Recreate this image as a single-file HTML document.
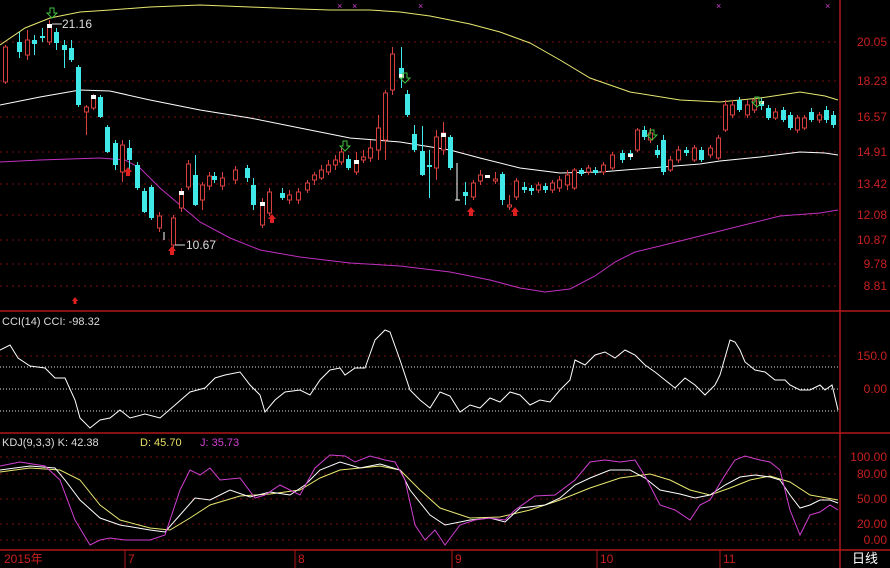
<!DOCTYPE html><html><head><meta charset="utf-8"><style>
body{margin:0;background:#000;width:890px;height:568px;overflow:hidden;font-family:"Liberation Sans","Noto Sans CJK SC",sans-serif}
svg{display:block}
</style></head><body>
<svg width="890" height="568" xmlns="http://www.w3.org/2000/svg">
<rect width="890" height="568" fill="#000"/>
<g stroke="#7a1010" stroke-dasharray="2,4" stroke-width="1">
<line x1="0" y1="42" x2="840" y2="42"/><line x1="0" y1="81" x2="840" y2="81"/><line x1="0" y1="117" x2="840" y2="117"/><line x1="0" y1="152" x2="840" y2="152"/><line x1="0" y1="184" x2="840" y2="184"/><line x1="0" y1="215" x2="840" y2="215"/><line x1="0" y1="240" x2="840" y2="240"/><line x1="0" y1="264" x2="840" y2="264"/><line x1="0" y1="286" x2="840" y2="286"/>
<line x1="0" y1="356" x2="840" y2="356"/>
<line x1="0" y1="457" x2="840" y2="457"/><line x1="0" y1="474" x2="840" y2="474"/><line x1="0" y1="499" x2="840" y2="499"/><line x1="0" y1="524" x2="840" y2="524"/><line x1="0" y1="540" x2="840" y2="540"/>
</g>
<g stroke="#ddd" stroke-dasharray="1,2"><line x1="0" y1="367" x2="840" y2="367"/><line x1="0" y1="389" x2="840" y2="389"/><line x1="0" y1="411" x2="840" y2="411"/></g>
<g stroke="#b01818" stroke-width="1.5" fill="none">
<line x1="0" y1="311" x2="890" y2="311"/><line x1="0" y1="433" x2="890" y2="433"/><line x1="0" y1="550" x2="890" y2="550"/><line x1="840" y1="0" x2="840" y2="568"/>
</g>
<g stroke="#b01818"><line x1="125" y1="550" x2="125" y2="568"/><line x1="295" y1="550" x2="295" y2="568"/><line x1="452" y1="550" x2="452" y2="568"/><line x1="597" y1="550" x2="597" y2="568"/><line x1="720" y1="550" x2="720" y2="568"/></g>
<g fill="#c82020" font-size="12">
<text x="4" y="563">2015年</text><text x="128" y="563">7</text><text x="298" y="563">8</text><text x="455" y="563">9</text><text x="600" y="563">10</text><text x="723" y="563">11</text>
</g>
<text x="852" y="563" fill="#fff" font-size="13">日线</text>
<g fill="#c82020" font-size="12" text-anchor="end">
<text x="887" y="46">20.05</text><text x="887" y="85">18.23</text><text x="887" y="121">16.57</text><text x="887" y="156">14.91</text><text x="887" y="188">13.42</text><text x="887" y="219">12.08</text><text x="887" y="244">10.87</text><text x="887" y="268">9.78</text><text x="887" y="290">8.81</text>
<text x="887" y="360">150.0</text><text x="887" y="393">0.00</text>
<text x="887" y="461">100.00</text><text x="887" y="478">80.00</text><text x="887" y="503">50.00</text><text x="887" y="528">20.00</text><text x="887" y="544">0.00</text>
</g>
<g font-size="11"><text x="2" y="325" fill="#ddd">CCI(14)  CCI: -98.32</text>
<text x="2" y="446" fill="#ddd">KDJ(9,3,3)  K: 42.38</text><text x="140" y="446" fill="#e8e060">D: 45.70</text><text x="200" y="446" fill="#d040d0">J: 35.73</text></g>
<g fill="#d040d0" font-size="9"><text x="337" y="9">×</text><text x="352" y="9">×</text><text x="418" y="9">×</text><text x="716" y="9">×</text><text x="825" y="9">×</text></g>
<polyline fill="none" stroke="#e8e870" points="0,45 25,28 50,18 80,12 110,10 150,7 200,5 250,7 300,9 330,10 370,10 400,12 430,16 470,24 500,32 530,43 560,60 590,78 630,92 680,100 720,102 760,98 800,92 825,96 838,100"/>
<polyline fill="none" stroke="#fff" points="0,105 40,97 80,90 110,91 150,100 200,110 250,118 300,128 350,138 400,142 450,150 480,158 520,168 560,173 600,172 650,168 700,164 720,161 760,157 800,152 825,153 838,155"/>
<polyline fill="none" stroke="#c030c0" points="0,162 40,160 100,158 125,160 140,168 160,188 180,205 200,222 230,238 260,250 300,257 350,263 400,266 450,272 490,280 520,288 545,292 570,289 595,276 615,262 635,252 660,246 700,236 740,226 780,216 820,213 838,210"/>
<polyline fill="none" stroke="#fff" points="0,350 10,345 18,358 30,366 45,368 55,378 65,378 75,400 80,418 90,428 100,420 110,418 120,410 130,418 145,414 160,418 175,405 190,392 205,388 215,378 225,375 240,372 250,385 260,395 265,412 275,400 285,392 300,390 310,395 320,380 330,370 340,368 345,375 355,368 365,368 375,340 385,330 390,332 400,360 410,390 420,400 430,408 440,392 450,396 460,412 470,405 480,408 490,398 500,402 510,392 520,395 530,405 540,400 550,402 560,390 570,380 575,360 585,365 595,355 605,352 615,358 625,350 635,355 645,365 655,372 665,380 675,388 685,378 695,385 705,395 715,385 720,375 730,340 735,342 740,350 745,362 755,370 765,372 775,380 785,380 790,385 800,390 810,390 820,385 825,390 832,385 838,410"/>
<polyline fill="none" stroke="#e8e870" points="0,472 30,468 60,470 80,480 100,505 120,520 150,528 170,530 190,518 210,505 240,496 270,494 300,490 320,478 340,470 360,468 380,466 400,470 420,490 440,508 470,518 500,517 530,510 560,500 590,488 620,478 650,474 670,480 690,490 710,495 730,488 750,480 770,476 790,482 810,495 838,500"/>
<polyline fill="none" stroke="#fff" points="0,470 30,466 55,468 65,480 80,500 100,518 120,525 150,530 165,532 180,515 195,498 210,500 230,490 250,497 270,492 290,495 305,485 320,470 340,462 360,468 380,464 400,470 410,490 430,515 445,525 470,520 490,518 505,522 520,508 545,505 560,498 575,485 590,478 610,470 630,470 645,478 660,490 680,494 695,498 710,495 725,485 740,477 755,475 770,477 780,480 790,495 800,508 810,505 820,500 830,500 838,503"/>
<polyline fill="none" stroke="#d040d0" points="0,466 20,462 45,466 60,480 75,520 90,545 100,540 110,538 125,540 140,540 150,540 165,535 180,490 190,470 200,475 210,468 220,480 240,478 255,498 265,495 280,485 300,495 315,468 330,455 345,456 355,462 370,456 385,460 395,462 405,480 415,525 425,540 435,530 445,545 460,525 475,520 490,518 505,520 515,510 535,496 555,495 575,480 590,462 605,460 620,462 635,460 645,476 660,505 675,510 690,520 700,505 710,500 725,475 735,460 745,456 760,460 770,462 780,470 790,510 800,535 810,515 820,512 830,505 838,510"/>
<!-- red candles: wicks -->
<path stroke="#d84040" fill="none" d="M5.5,45V84M27.5,30V60M49.5,20V45M86.5,105V135M93.5,94V110M122.5,140V182M159.5,212V232M173.5,215V248M181.5,188V212M188.5,160V190M202.5,182V210M209.5,172V190M222.5,172V190M235.5,166V184M262.5,198V228M269.5,188V216M289.5,190V204M298.5,188V204M307.5,180V193M314.5,172V185M321.5,165V180M328.5,160V175M335.5,155V170M341.5,148V165M356.5,152V175M363.5,150V163M370.5,140V162M378.5,115V160M385.5,90V160M392.5,47V95M436.5,130V180M443.5,122V155M473.5,180V200M480.5,170V185M495.5,172V184M509.5,195V210M516.5,178V200M538.5,182V193M552.5,180V193M559.5,176V192M567.5,170V190M574.5,168V190M588.5,165V175M603.5,162V175M612.5,152V170M637.5,128V152M650.5,128V143M670.5,156V172M678.5,146V163M694.5,145V162M710.5,145V158M718.5,135V160M725.5,100V132M732.5,100V118M747.5,100V118M754.5,97V113M775.5,108V120M797.5,115V133M804.5,115V130M819.5,112V123"/>
<g fill="#000" stroke="#d84040">
<rect x="3.5" y="47" width="4" height="35"/><rect x="25.5" y="40" width="4" height="15"/><rect x="47.5" y="25" width="4" height="17"/><rect x="84.5" y="107" width="4" height="5"/><rect x="91.5" y="96" width="4" height="12"/><rect x="120.5" y="145" width="4" height="27"/><rect x="157.5" y="216" width="4" height="12"/><rect x="171.5" y="218" width="4" height="27"/><rect x="179.5" y="192" width="4" height="16"/><rect x="186.5" y="164" width="4" height="23"/><rect x="200.5" y="185" width="4" height="15"/><rect x="207.5" y="176" width="4" height="10"/><rect x="220.5" y="178" width="4" height="8"/><rect x="233.5" y="170" width="4" height="10"/><rect x="260.5" y="203" width="4" height="22"/><rect x="267.5" y="192" width="4" height="21"/><rect x="287.5" y="195" width="4" height="5"/><rect x="296.5" y="192" width="4" height="8"/><rect x="305.5" y="183" width="4" height="7"/><rect x="312.5" y="175" width="4" height="5"/><rect x="319.5" y="170" width="4" height="8"/><rect x="326.5" y="165" width="4" height="7"/><rect x="333.5" y="160" width="4" height="5"/><rect x="339.5" y="152" width="4" height="10"/><rect x="354.5" y="161" width="4" height="11"/><rect x="361.5" y="157" width="4" height="3"/><rect x="368.5" y="148" width="4" height="10"/><rect x="376.5" y="128" width="4" height="22"/><rect x="383.5" y="93" width="4" height="47"/><rect x="390.5" y="54" width="4" height="36"/><rect x="434.5" y="137" width="4" height="31"/><rect x="441.5" y="133" width="4" height="17"/><rect x="471.5" y="183" width="4" height="14"/><rect x="478.5" y="175" width="4" height="6"/><rect x="493.5" y="179" width="4" height="2"/><rect x="507.5" y="205" width="4" height="2"/><rect x="514.5" y="181" width="4" height="16"/><rect x="536.5" y="185" width="4" height="5"/><rect x="550.5" y="183" width="4" height="7"/><rect x="557.5" y="180" width="4" height="8"/><rect x="565.5" y="175" width="4" height="10"/><rect x="572.5" y="170" width="4" height="18"/><rect x="586.5" y="168" width="4" height="4"/><rect x="601.5" y="165" width="4" height="7"/><rect x="610.5" y="155" width="4" height="13"/><rect x="635.5" y="130" width="4" height="20"/><rect x="648.5" y="133" width="4" height="7"/><rect x="668.5" y="160" width="4" height="10"/><rect x="676.5" y="150" width="4" height="10"/><rect x="692.5" y="148" width="4" height="12"/><rect x="708.5" y="148" width="4" height="7"/><rect x="716.5" y="138" width="4" height="20"/><rect x="723.5" y="105" width="4" height="25"/><rect x="730.5" y="105" width="4" height="10"/><rect x="745.5" y="105" width="4" height="10"/><rect x="752.5" y="100" width="4" height="10"/><rect x="773.5" y="112" width="4" height="6"/><rect x="795.5" y="118" width="4" height="12"/><rect x="802.5" y="118" width="4" height="10"/><rect x="817.5" y="115" width="4" height="5"/>
</g>
<path stroke="#40e8e8" fill="none" d="M19.5,32V58M34.5,35V55M42.5,28V42M56.5,28V50M64.5,40V68M71.5,40V62M78.5,65V107M100.5,95V118M107.5,125V153M115.5,140V170M129.5,140V170M137.5,162V190M144.5,188V213M151.5,185V220M195.5,155V206M214.5,172V183M247.5,165V182M253.5,178V210M282.5,188V200M348.5,155V170M401.5,47V88M407.5,90V117M414.5,125V152M422.5,126V176M429.5,150V198M450.5,135V170M465.5,182V205M502.5,172V205M524.5,182V193M531.5,185V195M545.5,183V193M581.5,168V176M595.5,167V175M622.5,150V163M630.5,150V160M644.5,126V140M657.5,145V158M663.5,135V175M686.5,147V156M701.5,147V162M739.5,97V112M761.5,98V110M768.5,105V120M783.5,107V122M790.5,112V130M811.5,108V122M826.5,106V123M833.5,111V128"/>
<g fill="#40e8e8">
<rect x="17" y="42" width="5" height="10"/><rect x="32" y="40" width="5" height="4"/><rect x="40" y="36" width="5" height="2"/><rect x="54" y="32" width="5" height="11"/><rect x="62" y="45" width="5" height="5"/><rect x="69" y="48" width="5" height="12"/><rect x="76" y="67" width="5" height="38"/><rect x="98" y="97" width="5" height="20"/><rect x="105" y="127" width="5" height="25"/><rect x="113" y="143" width="5" height="22"/><rect x="127" y="148" width="5" height="12"/><rect x="135" y="165" width="5" height="23"/><rect x="142" y="191" width="5" height="21"/><rect x="149" y="187" width="5" height="31"/><rect x="193" y="175" width="5" height="30"/><rect x="212" y="176" width="5" height="4"/><rect x="245" y="168" width="5" height="10"/><rect x="251" y="185" width="5" height="20"/><rect x="280" y="193" width="5" height="5"/><rect x="346" y="159" width="5" height="9"/><rect x="399" y="68" width="5" height="9"/><rect x="405" y="94" width="5" height="21"/><rect x="412" y="134" width="5" height="16"/><rect x="420" y="151" width="5" height="24"/><rect x="427" y="165" width="5" height="2"/><rect x="448" y="137" width="5" height="31"/><rect x="463" y="192" width="5" height="4"/><rect x="500" y="174" width="5" height="26"/><rect x="522" y="187" width="5" height="3"/><rect x="529" y="188" width="5" height="3"/><rect x="543" y="186" width="5" height="4"/><rect x="579" y="170" width="5" height="4"/><rect x="593" y="170" width="5" height="3"/><rect x="620" y="153" width="5" height="7"/><rect x="628" y="153" width="5" height="4"/><rect x="642" y="130" width="5" height="7"/><rect x="655" y="150" width="5" height="5"/><rect x="661" y="140" width="5" height="32"/><rect x="684" y="150" width="5" height="3"/><rect x="699" y="150" width="5" height="10"/><rect x="737" y="100" width="5" height="10"/><rect x="759" y="102" width="5" height="4"/><rect x="766" y="108" width="5" height="10"/><rect x="781" y="110" width="5" height="10"/><rect x="788" y="115" width="5" height="13"/><rect x="809" y="112" width="5" height="8"/><rect x="824" y="110" width="5" height="10"/><rect x="831" y="115" width="5" height="10"/>
</g>
<g fill="#fff"><rect x="47" y="24" width="5" height="4"/><rect x="91" y="95" width="5" height="4"/><rect x="179" y="191" width="5" height="4"/><rect x="260" y="202" width="5" height="4"/><rect x="354" y="160" width="5" height="4"/><rect x="399" y="74" width="5" height="4"/><rect x="441" y="133" width="5" height="4"/><rect x="485" y="175" width="5" height="3"/><rect x="628" y="154" width="5" height="3"/><rect x="759" y="101" width="5" height="3"/></g>
<g stroke="#fff"><line x1="457" y1="163" x2="457" y2="200"/><line x1="455" y1="200" x2="460" y2="200"/><line x1="164" y1="232" x2="164" y2="240"/></g>
<g fill="#e02020">
<path d="M124,172 l4,-5 4,5 h-2 v4 h-4 v-4z"/><path d="M168,251 l4,-5 4,5 h-2 v4 h-4 v-4z"/><path d="M268,219 l4,-5 4,5 h-2 v4 h-4 v-4z"/><path d="M467,212 l4,-5 4,5 h-2 v4 h-4 v-4z"/><path d="M511,212 l4,-5 4,5 h-2 v4 h-4 v-4z"/><path d="M72,301 l3,-4 3,4 h-1.5 v3 h-3 v-3z"/>
</g>
<g fill="none" stroke="#40c040">
<path d="M50,8 v5 h-3 l5,5 5,-5 h-3 v-5z"/><path d="M343,141 v5 h-3 l5,5 5,-5 h-3 v-5z"/><path d="M403,73 v5 h-3 l5,5 5,-5 h-3 v-5z"/><path d="M650,130 v5 h-3 l5,5 5,-5 h-3 v-5z"/><path d="M755,97 v5 h-3 l5,5 5,-5 h-3 v-5z"/>
</g>
<g fill="#ddd" font-size="12"><text x="62" y="28">21.16</text><text x="186" y="249">10.67</text></g>
<g stroke="#ddd"><line x1="52" y1="24" x2="62" y2="24"/><line x1="175" y1="245" x2="185" y2="245"/></g>
</svg>
</body></html>
